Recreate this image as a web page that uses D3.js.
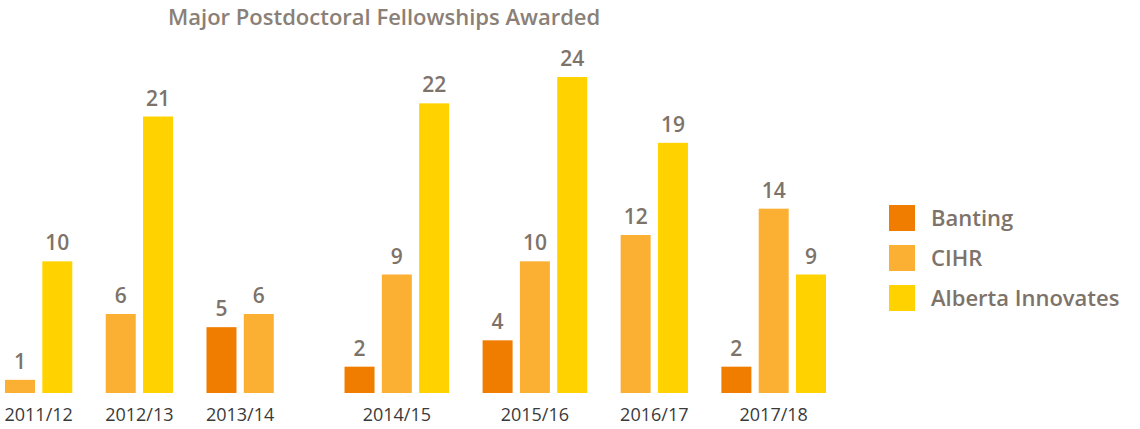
<!DOCTYPE html>
<html><head><meta charset="utf-8">
<script src="https://cdn.jsdelivr.net/npm/d3@7"></script>
<style>body{margin:0;background:#fff}text{font-family:"Open Sans",Lato,sans-serif}</style>
</head><body><svg width="1140" height="429"></svg>
<script>
const years = ["2011/12","2012/13","2013/14","2014/15","2015/16","2016/17","2017/18"];
const series = ["Banting","CIHR","Alberta Innovates"];
const banting = [0,0,5,2,4,0,2];
const cihr = [1,6,6,9,10,12,14];
const alberta = [10,21,0,22,24,19,9];
const colors = ["#f07d00","#fbb034","#ffd200"];
const vals = [banting,cihr,alberta];

const svg = d3.select("svg");
const slots = [];
let pos = 0;
years.forEach((yr,gi)=>{
  if(gi>0) pos += 0.7;
  series.forEach((s,si)=>{
    const v = vals[si][gi];
    if(si===0 && v===0) return;
    slots.push({yr,gi,si,v,pos});
    pos += 1;
  });
});
const x = d3.scaleLinear().domain([0,pos-1]).range([5,796]);
const bw = 30;
const y = d3.scaleLinear().domain([0,24]).range([393,77]);

const bars = slots.filter(d=>d.v>0);
svg.selectAll("rect.bar").data(bars).join("rect")
  .attr("x",d=>x(d.pos)).attr("width",bw)
  .attr("y",d=>y(d.v)).attr("height",d=>y(0)-y(d.v))
  .attr("fill",d=>colors[d.si]);
svg.selectAll("text.val").data(bars).join("text")
  .attr("x",d=>x(d.pos)+bw/2).attr("y",d=>y(d.v)-11)
  .attr("text-anchor","middle").attr("font-size",21).attr("font-weight",600).attr("fill","#7d736a")
  .text(d=>d.v);
years.forEach((yr,gi)=>{
  const b = bars.filter(d=>d.gi===gi);
  const cx = (x(d3.min(b,d=>d.pos)) + x(d3.max(b,d=>d.pos))+bw)/2;
  svg.append("text").attr("x",cx).attr("y",421).attr("text-anchor","middle")
    .attr("font-size",18).attr("fill","#3a3a3a").text(yr);
});
svg.append("text").attr("x",168).attr("y",25).attr("font-size",22).attr("font-weight",600).attr("fill","#8a8077")
  .text("Major Postdoctoral Fellowships Awarded");
series.forEach((s,i)=>{
  svg.append("rect").attr("x",889).attr("y",205+i*40).attr("width",26).attr("height",26).attr("fill",colors[i]);
  svg.append("text").attr("x",931).attr("y",226+i*40).attr("font-size",22).attr("font-weight",600).attr("fill","#7d736a").text(s);
});
</script></body></html>
